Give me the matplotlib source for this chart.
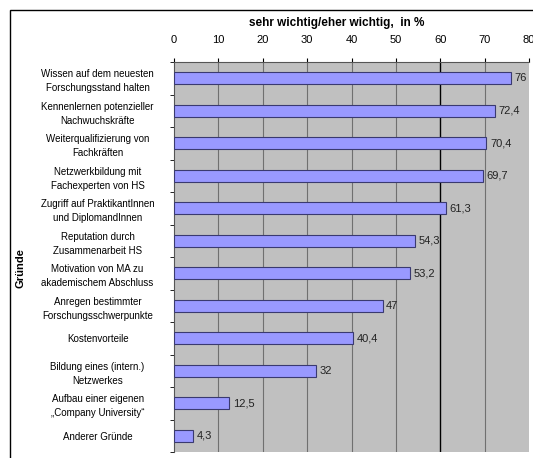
import numpy as np
import matplotlib.pyplot as plt
from matplotlib.patches import Rectangle

plt.rcParams['font.family'] = ['Liberation Sans', 'DejaVu Sans']

gruende = [
    "Wissen auf dem neuesten\nForschungsstand halten",
    "Kennenlernen potenzieller\nNachwuchskräfte",
    "Weiterqualifizierung von\nFachkräften",
    "Netzwerkbildung mit\nFachexperten von HS",
    "Zugriff auf PraktikantInnen\nund DiplomandInnen",
    "Reputation durch\nZusammenarbeit HS",
    "Motivation von MA zu\nakademischem Abschluss",
    "Anregen bestimmter\nForschungsschwerpunkte",
    "Kostenvorteile",
    "Bildung eines (intern.)\nNetzwerkes",
    "Aufbau einer eigenen\n„Company University“",
    "Anderer Gründe",
]
werte = [76, 72.4, 70.4, 69.7, 61.3, 54.3, 53.2, 47, 40.4, 32, 12.5, 4.3]
xticks = [0, 10, 20, 30, 40, 50, 60, 70, 80]

fig = plt.figure(figsize=(5.33, 4.58), dpi=100)
ax = fig.add_axes([174 / 533, 6 / 458, 355 / 533, 390 / 458])
ax.set_facecolor("#c0c0c0")

y = np.arange(len(gruende))
ax.barh(y, werte, height=0.38, color="#9999ff", edgecolor="#3a3a70", linewidth=0.8, zorder=3)

for yi, v in zip(y, werte):
    txt = f"{v:g}".replace(".", ",")
    ax.text(v + 0.8, yi, txt, va="center", ha="left", fontsize=8, color="#222222", zorder=4)

ax.set_xlim(0, 80)
ax.set_ylim(len(gruende) - 0.5, -0.5)
ax.set_xticks(xticks)
ax.xaxis.tick_top()
ax.tick_params(axis="x", labelsize=8, length=3, pad=9)
for xv in xticks[1:-1]:
    ax.axvline(xv, color="black" if xv == 60 else "#707070", linewidth=1.0 if xv == 60 else 0.8, zorder=1)

ax.set_yticks(y)
ax.set_yticklabels(gruende, fontsize=7, ha="center", linespacing=1.5)
ax.set_yticks(np.arange(len(gruende) + 1) - 0.5, minor=True)
ax.tick_params(axis="y", which="major", length=0, pad=55)
ax.tick_params(axis="y", which="minor", length=3)

for s in ["right", "bottom"]:
    ax.spines[s].set_visible(False)
ax.spines["left"].set_color("#555555")
ax.spines["top"].set_color("#555555")

fig.text(337 / 533, 1 - 23 / 458, "sehr wichtig/eher wichtig,  in %", ha="center", va="center",
         fontsize=8.5, fontweight="bold")
fig.text(20 / 533, 1 - 268 / 458, "Gründe", rotation=90, ha="center", va="center",
         fontsize=8, fontweight="bold")

fig.patches.append(Rectangle((10 / 533, -0.1), 1.0, (448 / 458) + 0.1, fill=False,
                             edgecolor="black", linewidth=1, transform=fig.transFigure))

fig.savefig("out.png", dpi=100)
